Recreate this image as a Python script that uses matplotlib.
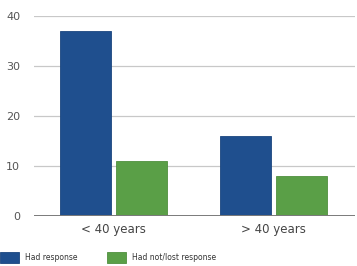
import numpy as np
import matplotlib.pyplot as plt

categories = ['< 40 years', '> 40 years']
had_response = [37, 16]
had_not_lost = [11, 8]
series_names = ['Had response', 'Had not/lost response']

blue = '#1f4f8e'
green = '#5a9f47'

fig = plt.figure(figsize=(3.57, 2.66), dpi=100)
ax = fig.add_axes([34/357, 1-216/266, 321/357, 200/266])

x = np.arange(len(categories))
w = 0.32
ax.bar(x - 0.175, had_response, w, color=blue, edgecolor='#1b467f', linewidth=0.6,
       label=series_names[0], zorder=3)
ax.bar(x + 0.175, had_not_lost, w, color=green, edgecolor='#4f8f3e', linewidth=0.6,
       label=series_names[1], zorder=3)

ax.set_xlim(-0.497, 1.509)
ax.set_ylim(0, 40)
ax.set_yticks([0, 10, 20, 30, 40])
ax.yaxis.grid(True, color='#c8c8c8', linewidth=0.9, zorder=0)
ax.axhline(0, color='#7a7a7a', linewidth=1.4, zorder=4)
for s in ax.spines.values():
    s.set_visible(False)
ax.tick_params(axis='y', length=0, pad=10, labelsize=8, labelcolor='#555555')
ax.tick_params(axis='x', length=0, pad=5, labelsize=8.5, labelcolor='#444444')
ax.set_xticks(x)
ax.set_xticklabels(categories)

fig.legend(loc='lower left', bbox_to_anchor=(0, 3/266), ncol=2, frameon=False,
           fontsize=5.5, labelcolor='#333333', handlelength=2.5, handleheight=1.85,
           handletextpad=0.8, columnspacing=3.8, borderpad=0, borderaxespad=0)

fig.savefig('out.png', dpi=100)
